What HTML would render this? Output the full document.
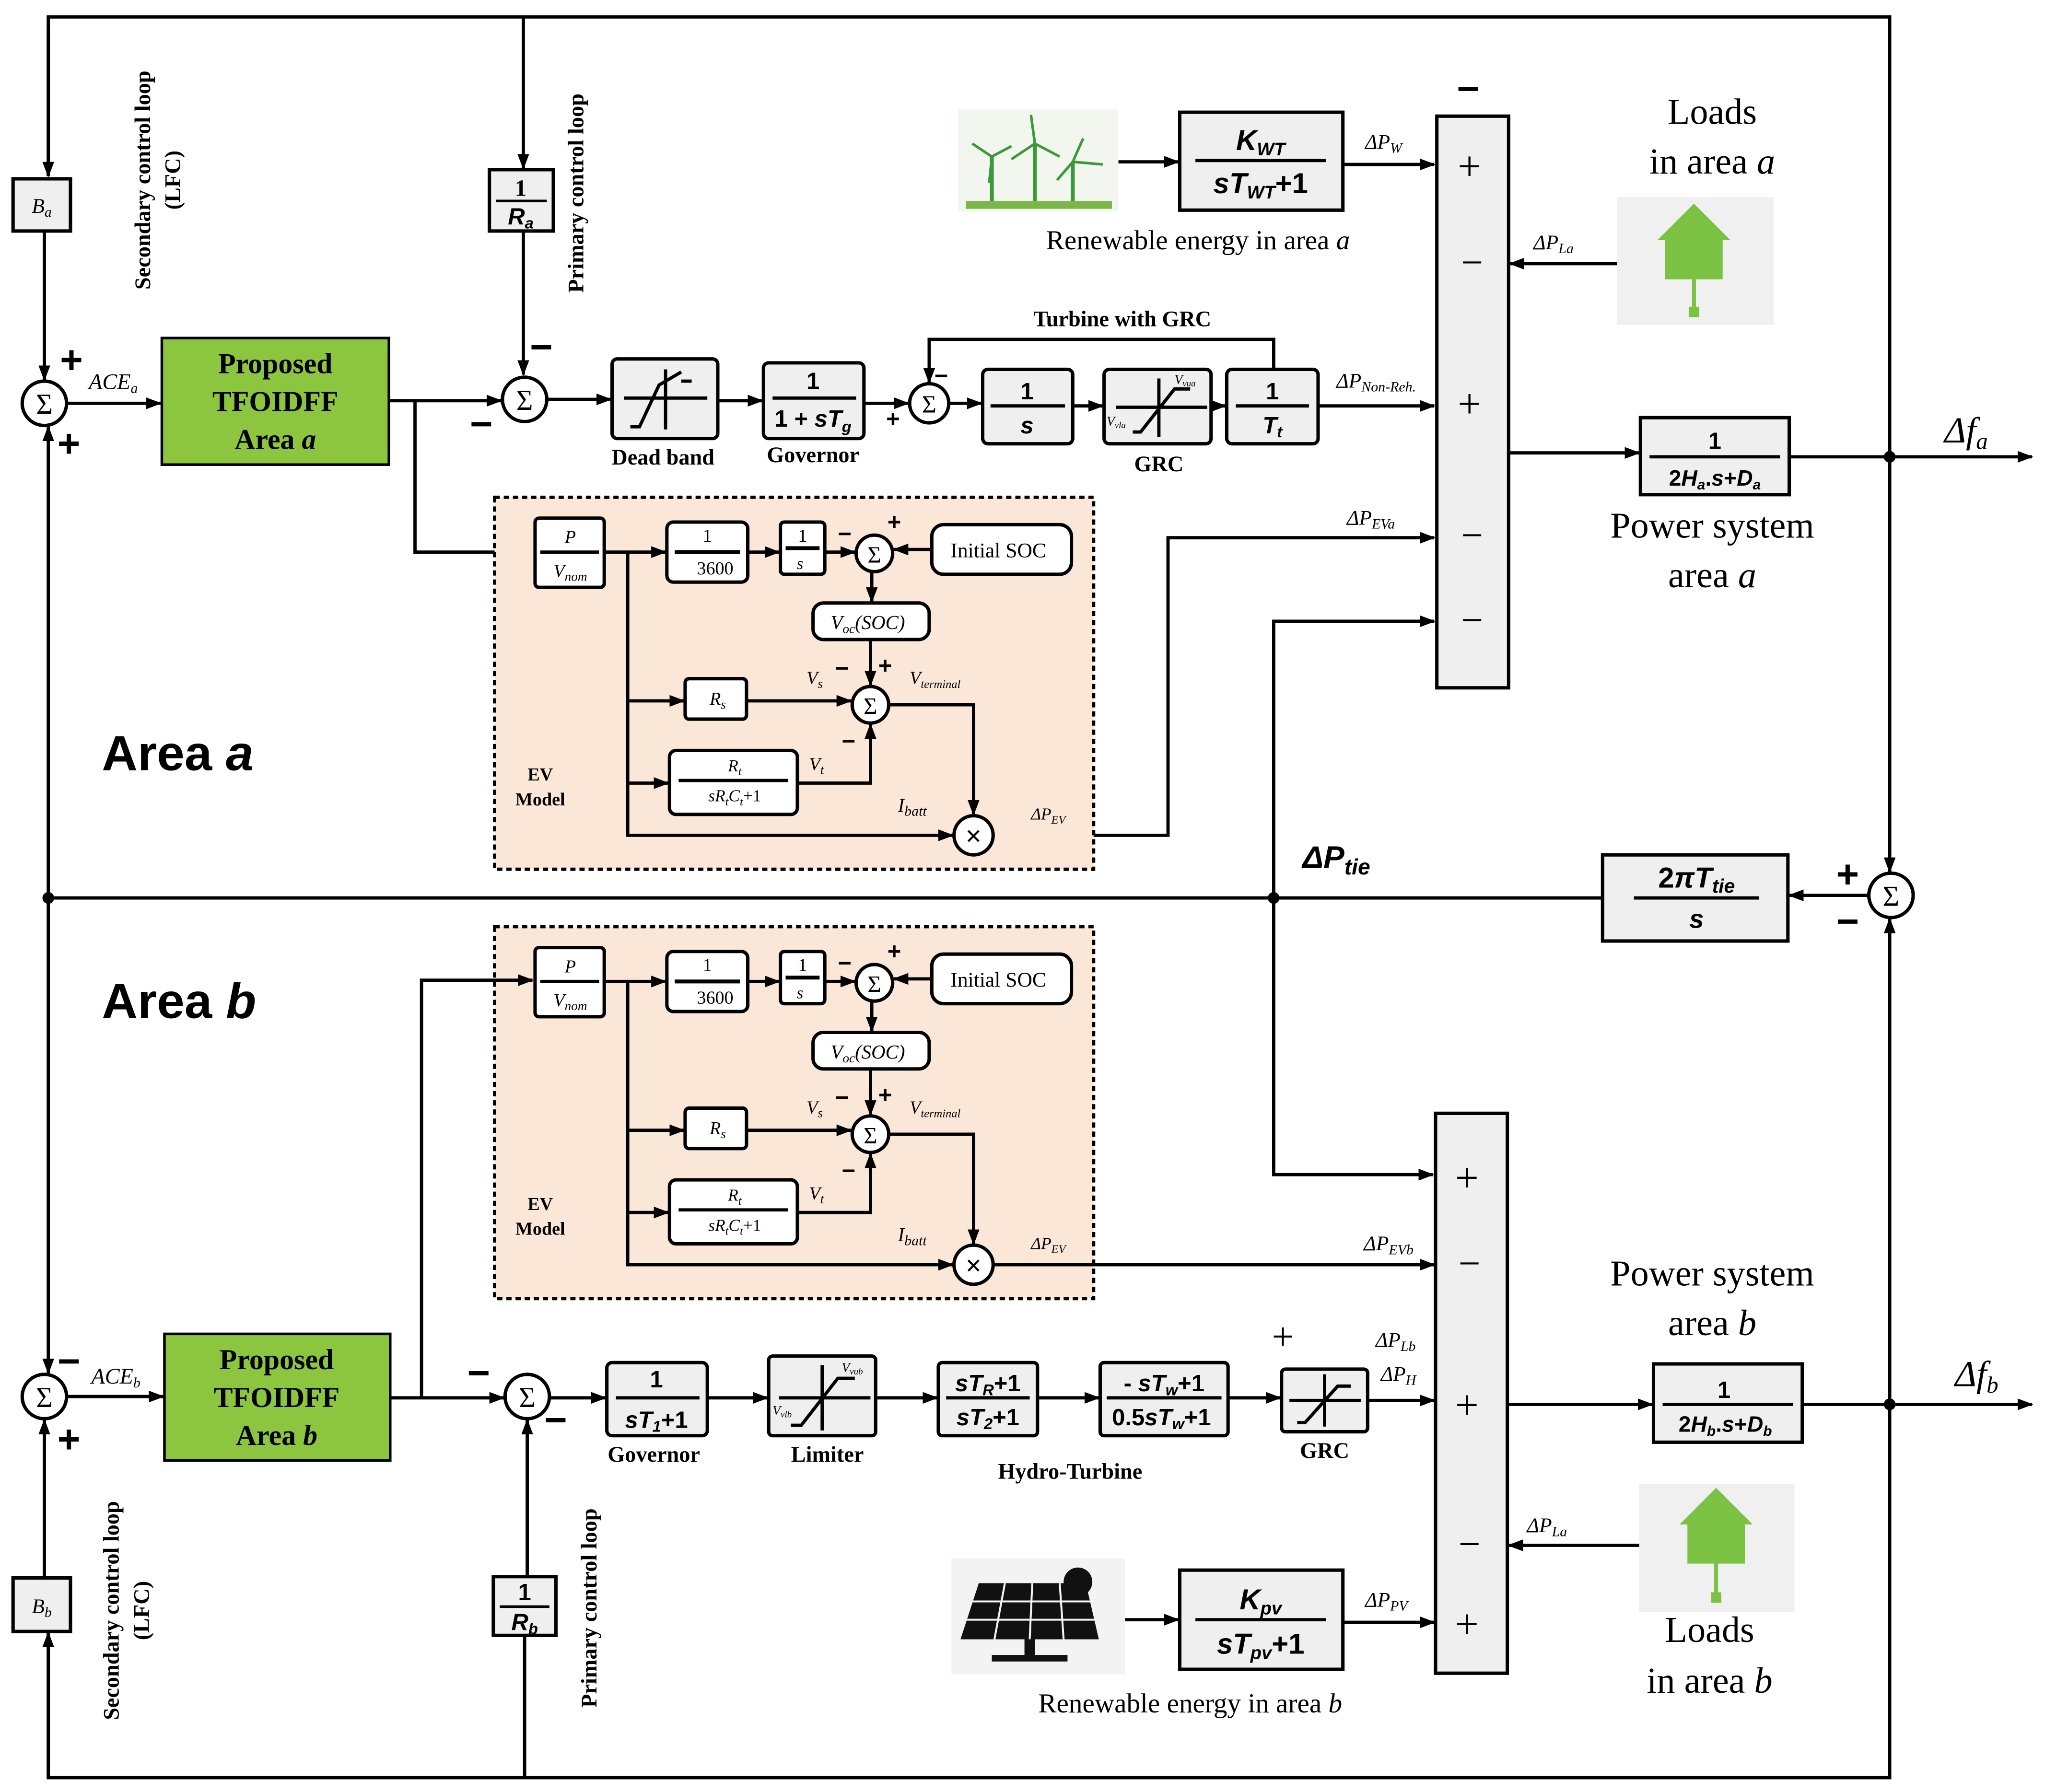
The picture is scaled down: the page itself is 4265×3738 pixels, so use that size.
<!DOCTYPE html>
<html><head><meta charset="utf-8"><style>
html,body{margin:0;padding:0;background:#fff}
svg{display:block}
text{font-family:"Liberation Serif",serif}
.b{fill:#efefef;stroke:#000;stroke-width:2.6}
.w{fill:#fff;stroke:#000;stroke-width:2.6}
.l{stroke:#000;stroke-width:2.5;fill:none}
.s{font-family:"Liberation Sans",sans-serif;font-weight:bold}
.g{font-family:"Liberation Sans",sans-serif;font-weight:bold}
</style></head><body>
<svg width="4265" height="3738" viewBox="0 0 1567 1373" preserveAspectRatio="none" xmlns="http://www.w3.org/2000/svg">
<defs>
<marker id="a" markerWidth="12" markerHeight="9" refX="11" refY="4.5" orient="auto" markerUnits="userSpaceOnUse"><path d="M0,0 L12,4.5 L0,9 z" fill="#000"/></marker>
</defs>
<rect width="1567" height="1373" fill="#fff"/>

<!-- outer loops -->
<path class="l" d="M37,135 V13 H1448 V1362 H37 V1250"/>
<line class="l" x1="37" y1="20" x2="37" y2="135" marker-end="url(#a)"/>
<line class="l" x1="401" y1="13" x2="401" y2="129" marker-end="url(#a)"/>
<line class="l" x1="402" y1="1362" x2="402" y2="1254"/>
<line class="l" x1="37" y1="1362" x2="37" y2="1251" marker-end="url(#a)"/>

<!-- Area a left -->
<rect class="b" x="10" y="137" width="44" height="40"/>
<text x="32" y="163" font-size="16" text-anchor="middle" font-style="italic">B<tspan font-size="11" dy="3">a</tspan></text>
<line class="l" x1="34" y1="177" x2="34" y2="291" marker-end="url(#a)"/>
<circle class="w" cx="34" cy="309" r="17"/><text x="34" y="317" font-size="22" text-anchor="middle">Σ</text>
<text x="46" y="286" font-size="30" class="g">+</text><text x="44" y="350" font-size="30" class="g">+</text>
<line class="l" x1="37" y1="688" x2="37" y2="327" marker-end="url(#a)"/>
<line class="l" x1="51" y1="309" x2="123" y2="309" marker-end="url(#a)"/>
<text x="68" y="298" font-size="17" font-style="italic">ACE<tspan font-size="11" dy="3">a</tspan></text>
<rect x="124" y="259" width="174" height="97" fill="#8cc63f" stroke="#000" stroke-width="2"/>
<text x="211" y="286" font-size="22" font-weight="bold" text-anchor="middle">Proposed</text>
<text x="211" y="315" font-size="22" font-weight="bold" text-anchor="middle">TFOIDFF</text>
<text x="211" y="344" font-size="22" font-weight="bold" text-anchor="middle">Area <tspan font-style="italic">a</tspan></text>
<text transform="translate(115,138) rotate(-90)" font-size="17" font-weight="bold" text-anchor="middle">Secondary control loop</text>
<text transform="translate(138,138) rotate(-90)" font-size="17" font-weight="bold" text-anchor="middle">(LFC)</text>
<text transform="translate(447,148) rotate(-90)" font-size="17" font-weight="bold" text-anchor="middle">Primary control loop</text>

<rect class="b" x="375" y="130" width="49" height="47"/>
<text x="399" y="150" font-size="18" font-weight="bold" text-anchor="middle">1</text>
<line x1="380" y1="154" x2="419" y2="154" stroke="#000" stroke-width="2"/>
<text x="399" y="172" font-size="18" font-weight="bold" font-style="italic" text-anchor="middle" class="s">R<tspan font-size="12" dy="3">a</tspan></text>
<line class="l" x1="401" y1="177" x2="401" y2="287" marker-end="url(#a)"/>
<text x="406" y="276" font-size="30" class="g">−</text><text x="360" y="335" font-size="30" class="g">−</text>
<line class="l" x1="298" y1="307" x2="384" y2="307" marker-end="url(#a)"/>
<circle class="w" cx="402" cy="306" r="17"/><text x="402" y="314" font-size="22" text-anchor="middle">Σ</text>
<path class="l" d="M318,307 V423 H408" marker-end="url(#a)"/>

<!-- governor chain a -->
<line class="l" x1="419" y1="306" x2="468" y2="306" marker-end="url(#a)"/>
<rect class="b" x="469" y="275" width="81" height="61" rx="4"/>
<path class="l" d="M478,305 H542 M510,283 V329 M483,327 H490 L505,295 L522,285 M522,292 H530" />
<text x="508" y="356" font-size="17" font-weight="bold" text-anchor="middle">Dead band</text>
<line class="l" x1="550" y1="307" x2="584" y2="307" marker-end="url(#a)"/>
<rect class="b" x="585" y="278" width="77" height="58" rx="4"/>
<text x="623" y="298" font-size="18" class="s" text-anchor="middle">1</text>
<line x1="592" y1="305" x2="656" y2="305" stroke="#000" stroke-width="2.5"/>
<text x="623" y="327" font-size="18" class="s" text-anchor="middle">1 + <tspan font-style="italic">sT</tspan><tspan font-size="12" dy="4" font-style="italic">g</tspan></text>
<text x="623" y="354" font-size="17" font-weight="bold" text-anchor="middle">Governor</text>
<line class="l" x1="662" y1="309" x2="696" y2="309" marker-end="url(#a)"/>
<text x="679" y="327" font-size="18" class="g">+</text>
<circle class="w" cx="712" cy="309" r="15"/><text x="712" y="316" font-size="19" text-anchor="middle">Σ</text>
<path class="l" d="M976,283 V260 H712 V293" marker-end="url(#a)"/>
<text x="716" y="294" font-size="18" class="g">−</text>
<line class="l" x1="727" y1="309" x2="752" y2="309" marker-end="url(#a)"/>
<rect class="b" x="753" y="283" width="69" height="57" rx="4"/>
<text x="787" y="306" font-size="18" class="s" text-anchor="middle">1</text>
<line x1="759" y1="311" x2="816" y2="311" stroke="#000" stroke-width="2.5"/>
<text x="787" y="332" font-size="18" class="s" text-anchor="middle" font-style="italic">s</text>
<line class="l" x1="822" y1="311" x2="845" y2="311" marker-end="url(#a)"/>
<rect class="b" x="846" y="283" width="82" height="57" rx="4"/>
<path class="l" d="M855,312 H925 M888,290 V335 M868,331 H874 L900,298 H912"/>
<text x="900" y="294" font-size="10" font-style="italic">V<tspan font-size="7" dy="2">vua</tspan></text>
<text x="848" y="326" font-size="10" font-style="italic">V<tspan font-size="7" dy="2">vla</tspan></text>
<text x="888" y="361" font-size="17" font-weight="bold" text-anchor="middle">GRC</text>
<line class="l" x1="928" y1="311" x2="939" y2="311" marker-end="url(#a)"/>
<rect class="b" x="940" y="283" width="70" height="57" rx="4"/>
<text x="975" y="306" font-size="18" class="s" text-anchor="middle">1</text>
<line x1="947" y1="311" x2="1003" y2="311" stroke="#000" stroke-width="2.5"/>
<text x="975" y="332" font-size="18" class="s" text-anchor="middle" font-style="italic">T<tspan font-size="12" dy="3">t</tspan></text>
<text x="860" y="250" font-size="17" font-weight="bold" text-anchor="middle">Turbine with GRC</text>
<line class="l" x1="1010" y1="311" x2="1099" y2="311" marker-end="url(#a)"/>
<text x="1024" y="297" font-size="16" font-style="italic">ΔP<tspan font-size="11" dy="3">Non-Reh.</tspan></text>

<!-- big summer a -->
<rect class="b" x="1101" y="89" width="55" height="438"/>
<text x="1125" y="78" font-size="30" class="g" text-anchor="middle">−</text>
<text x="1126" y="138" font-size="32" text-anchor="middle">+</text>
<text x="1128" y="211" font-size="30" text-anchor="middle">−</text>
<text x="1126" y="320" font-size="32" text-anchor="middle">+</text>
<text x="1128" y="420" font-size="30" text-anchor="middle">−</text>
<text x="1128" y="485" font-size="30" text-anchor="middle">−</text>

<!-- wind -->
<rect x="734" y="84" width="123" height="78" fill="#f3f6ee"/>
<g stroke="#3a9a3a" stroke-width="3" fill="none">
<line x1="760" y1="158" x2="760" y2="120"/><line x1="793" y1="158" x2="793" y2="110"/><line x1="822" y1="158" x2="822" y2="124"/>
<path d="M760,120 L745,110 M760,120 L775,112 M760,120 L758,140" stroke-width="2"/>
<path d="M793,110 L790,88 M793,110 L812,120 M793,110 L775,122" stroke-width="2"/>
<path d="M822,124 L830,106 M822,124 L845,126 M822,124 L810,138" stroke-width="2"/>
</g>
<rect x="740" y="154" width="112" height="6" fill="#7ab648"/>
<line class="l" x1="857" y1="124" x2="903" y2="124" marker-end="url(#a)"/>
<rect class="b" x="904" y="86" width="125" height="75"/>
<text x="966" y="115" font-size="22" class="s" text-anchor="middle" font-style="italic">K<tspan font-size="14" dy="4">WT</tspan></text>
<line x1="916" y1="123" x2="1016" y2="123" stroke="#000" stroke-width="2.5"/>
<text x="966" y="148" font-size="22" class="s" text-anchor="middle"><tspan font-style="italic">sT</tspan><tspan font-size="14" dy="4" font-style="italic">WT</tspan><tspan dy="-4">+1</tspan></text>
<text x="918" y="191" font-size="21" text-anchor="middle">Renewable energy in area <tspan font-style="italic">a</tspan></text>
<line class="l" x1="1029" y1="126" x2="1099" y2="126" marker-end="url(#a)"/>
<text x="1046" y="114" font-size="16" font-style="italic">ΔP<tspan font-size="11" dy="3">W</tspan></text>

<!-- loads a -->
<text x="1312" y="95" font-size="28" text-anchor="middle">Loads</text>
<text x="1312" y="133" font-size="28" text-anchor="middle">in area <tspan font-style="italic">a</tspan></text>
<rect x="1239" y="151" width="120" height="98" fill="#f0f0f0"/>
<path d="M1298,156 L1270,184 H1326 Z" fill="#7cc242"/>
<rect x="1276" y="184" width="44" height="30" fill="#7cc242"/>
<path d="M1298,214 V235" stroke="#7cc242" stroke-width="3"/>
<rect x="1294" y="235" width="8" height="8" fill="#7cc242"/>
<line class="l" x1="1239" y1="202" x2="1157" y2="202" marker-end="url(#a)"/>
<text x="1175" y="191" font-size="16" font-style="italic">ΔP<tspan font-size="11" dy="3">La</tspan></text>

<!-- output a -->
<line class="l" x1="1156" y1="347" x2="1256" y2="347" marker-end="url(#a)"/>
<rect class="b" x="1257" y="320" width="114" height="59"/>
<text x="1314" y="344" font-size="18" class="s" text-anchor="middle">1</text>
<line x1="1264" y1="350" x2="1364" y2="350" stroke="#000" stroke-width="2.5"/>
<text x="1314" y="372" font-size="17" class="s" text-anchor="middle">2<tspan font-style="italic">H</tspan><tspan font-size="11" dy="3" font-style="italic">a</tspan><tspan dy="-3">.</tspan><tspan font-style="italic">s</tspan>+<tspan font-style="italic">D</tspan><tspan font-size="11" dy="3" font-style="italic">a</tspan></text>
<line class="l" x1="1371" y1="350" x2="1557" y2="350" marker-end="url(#a)"/>
<circle cx="1448" cy="350" r="4.5" fill="#000"/>
<text x="1490" y="339" font-size="28" font-style="italic">Δf<tspan font-size="18" dy="5">a</tspan></text>
<text x="1312" y="412" font-size="28" text-anchor="middle">Power system</text>
<text x="1312" y="450" font-size="28" text-anchor="middle">area <tspan font-style="italic">a</tspan></text>

<!-- tie line -->
<line class="l" x1="37" y1="688" x2="1228" y2="688"/>
<circle cx="37" cy="688" r="4.5" fill="#000"/><circle cx="976" cy="688" r="4.5" fill="#000"/>
<path class="l" d="M976,688 V476 H1099" marker-end="url(#a)"/>
<path class="l" d="M976,688 V900 H1098" marker-end="url(#a)"/>
<text x="998" y="665" font-size="24" class="s"><tspan font-style="italic">ΔP</tspan><tspan font-size="17" dy="5" font-style="italic">tie</tspan></text>
<rect class="b" x="1228" y="655" width="142" height="66"/>
<text x="1300" y="680" font-size="22" class="s" text-anchor="middle">2<tspan font-style="italic">πT</tspan><tspan font-size="15" dy="4" font-style="italic">tie</tspan></text>
<line x1="1252" y1="688" x2="1348" y2="688" stroke="#000" stroke-width="2.5"/>
<text x="1300" y="711" font-size="20" class="s" text-anchor="middle" font-style="italic">s</text>
<line class="l" x1="1432" y1="686" x2="1371" y2="686" marker-end="url(#a)"/>
<circle class="w" cx="1449" cy="686" r="17"/><text x="1449" y="694" font-size="22" text-anchor="middle">Σ</text>
<line class="l" x1="1448" y1="350" x2="1448" y2="668" marker-end="url(#a)"/>
<line class="l" x1="1448" y1="1076" x2="1448" y2="704" marker-end="url(#a)"/>
<text x="1407" y="680" font-size="30" class="g">+</text><text x="1407" y="716" font-size="30" class="g">−</text>
<path class="l" d="M761,640 H895 V412 H1099" marker-end="url(#a)"/>
<text x="1032" y="402" font-size="16" font-style="italic">ΔP<tspan font-size="11" dy="3">EVa</tspan></text>

<text x="78" y="590" font-size="38" class="s">Area <tspan font-style="italic">a</tspan></text>
<text x="78" y="780" font-size="38" class="s">Area <tspan font-style="italic">b</tspan></text>

<!-- EV model template -->
<g id="ev">
<rect x="379" y="381" width="459" height="285" fill="#fbe7d8" stroke="#000" stroke-width="2.5" stroke-dasharray="4,3"/>
<rect class="w" x="410" y="397" width="53" height="53" rx="3"/>
<text x="437" y="416" font-size="14" font-style="italic" text-anchor="middle">P</text>
<line x1="414" y1="423" x2="459" y2="423" stroke="#000" stroke-width="2.5"/>
<text x="437" y="442" font-size="14" font-style="italic" text-anchor="middle">V<tspan font-size="10" dy="3">nom</tspan></text>
<line class="l" x1="463" y1="423" x2="510" y2="423" marker-end="url(#a)"/>
<rect class="w" x="511" y="400" width="62" height="46" rx="5"/>
<text x="542" y="415" font-size="14" text-anchor="middle">1</text>
<line x1="517" y1="423" x2="567" y2="423" stroke="#000" stroke-width="3"/>
<text x="548" y="440" font-size="14" text-anchor="middle">3600</text>
<line class="l" x1="573" y1="423" x2="597" y2="423" marker-end="url(#a)"/>
<rect class="w" x="598" y="400" width="34" height="40" rx="3"/>
<text x="615" y="415" font-size="14" text-anchor="middle">1</text>
<line x1="602" y1="420" x2="628" y2="420" stroke="#000" stroke-width="3"/>
<text x="613" y="436" font-size="13" font-style="italic" text-anchor="middle">s</text>
<line class="l" x1="632" y1="423" x2="655" y2="423" marker-end="url(#a)"/>
<circle class="w" cx="670" cy="424" r="14"/><text x="670" y="431" font-size="18" text-anchor="middle">Σ</text>
<text x="642" y="415" font-size="18" class="g">−</text><text x="680" y="406" font-size="18" class="g">+</text>
<rect class="w" x="714" y="402" width="107" height="38" rx="9"/>
<text x="765" y="427" font-size="16" text-anchor="middle">Initial SOC</text>
<line class="l" x1="714" y1="421" x2="685" y2="421" marker-end="url(#a)"/>
<line class="l" x1="668" y1="438" x2="668" y2="461" marker-end="url(#a)"/>
<rect class="w" x="623" y="462" width="89" height="28" rx="8"/>
<text x="665" y="482" font-size="15" font-style="italic" text-anchor="middle">V<tspan font-size="10" dy="3">oc</tspan><tspan dy="-3">(SOC)</tspan></text>
<line class="l" x1="667" y1="490" x2="667" y2="525" marker-end="url(#a)"/>
<text x="673" y="516" font-size="18" class="g">+</text>
<text x="640" y="518" font-size="18" class="g">−</text>
<text x="618" y="524" font-size="14" font-style="italic">V<tspan font-size="10" dy="3">s</tspan></text>
<text x="697" y="524" font-size="14" font-style="italic">V<tspan font-size="9" dy="3">terminal</tspan></text>
<circle class="w" cx="667" cy="540" r="14"/><text x="667" y="547" font-size="18" text-anchor="middle">Σ</text>
<path class="l" d="M481,423 V640 H730" marker-end="url(#a)"/>
<line class="l" x1="481" y1="537" x2="524" y2="537" marker-end="url(#a)"/>
<rect class="w" x="525" y="520" width="47" height="31" rx="3"/>
<text x="550" y="540" font-size="14" font-style="italic" text-anchor="middle">R<tspan font-size="10" dy="3">s</tspan></text>
<line class="l" x1="572" y1="537" x2="652" y2="537" marker-end="url(#a)"/>
<line class="l" x1="481" y1="600" x2="512" y2="600" marker-end="url(#a)"/>
<rect class="w" x="513" y="575" width="98" height="49" rx="5"/>
<text x="563" y="591" font-size="13" font-style="italic" text-anchor="middle">R<tspan font-size="9" dy="3">t</tspan></text>
<line x1="520" y1="598" x2="604" y2="598" stroke="#000" stroke-width="2.5"/>
<text x="563" y="614" font-size="13" font-style="italic" text-anchor="middle">sR<tspan font-size="9" dy="3">t</tspan><tspan dy="-3">C</tspan><tspan font-size="9" dy="3">t</tspan><tspan dy="-3" font-style="normal">+1</tspan></text>
<path class="l" d="M611,600 H667 V555" marker-end="url(#a)"/>
<text x="645" y="574" font-size="18" class="g">−</text>
<text x="620" y="590" font-size="14" font-style="italic">V<tspan font-size="10" dy="3">t</tspan></text>
<path class="l" d="M681,540 H746 V624" marker-end="url(#a)"/>
<circle class="w" cx="746" cy="640" r="15"/><text x="746" y="648" font-size="22" font-weight="bold" text-anchor="middle">×</text>
<text x="688" y="622" font-size="15" font-style="italic">I<tspan font-size="11" dy="3">batt</tspan></text>
<text x="790" y="628" font-size="13" font-style="italic">ΔP<tspan font-size="9" dy="3">EV</tspan></text>
<text x="414" y="598" font-size="14" font-weight="bold" text-anchor="middle">EV</text>
<text x="414" y="617" font-size="14" font-weight="bold" text-anchor="middle">Model</text>
</g>
<use href="#ev" transform="translate(0,329)"/>

<!-- Area b -->
<line class="l" x1="37" y1="688" x2="37" y2="1052" marker-end="url(#a)"/>
<circle class="w" cx="34" cy="1070" r="17"/><text x="34" y="1078" font-size="22" text-anchor="middle">Σ</text>
<text x="44" y="1053" font-size="30" class="g">−</text><text x="44" y="1113" font-size="30" class="g">+</text>
<rect class="b" x="10" y="1209" width="44" height="41"/>
<text x="32" y="1236" font-size="16" text-anchor="middle" font-style="italic">B<tspan font-size="11" dy="3">b</tspan></text>
<line class="l" x1="34" y1="1209" x2="34" y2="1088" marker-end="url(#a)"/>
<line class="l" x1="51" y1="1070" x2="125" y2="1070" marker-end="url(#a)"/>
<text x="70" y="1060" font-size="17" font-style="italic">ACE<tspan font-size="11" dy="3">b</tspan></text>
<rect x="126" y="1022" width="173" height="97" fill="#8cc63f" stroke="#000" stroke-width="2"/>
<text x="212" y="1049" font-size="22" font-weight="bold" text-anchor="middle">Proposed</text>
<text x="212" y="1078" font-size="22" font-weight="bold" text-anchor="middle">TFOIDFF</text>
<text x="212" y="1107" font-size="22" font-weight="bold" text-anchor="middle">Area <tspan font-style="italic">b</tspan></text>
<text transform="translate(91,1234) rotate(-90)" font-size="17" font-weight="bold" text-anchor="middle">Secondary control loop</text>
<text transform="translate(114,1234) rotate(-90)" font-size="17" font-weight="bold" text-anchor="middle">(LFC)</text>
<text transform="translate(457,1232) rotate(-90)" font-size="17" font-weight="bold" text-anchor="middle">Primary control loop</text>
<line class="l" x1="299" y1="1071" x2="386" y2="1071" marker-end="url(#a)"/>
<path class="l" d="M323,1071 V751 H408" marker-end="url(#a)"/>
<circle class="w" cx="404" cy="1070" r="17"/><text x="404" y="1078" font-size="22" text-anchor="middle">Σ</text>
<text x="358" y="1062" font-size="30" class="g">−</text><text x="417" y="1098" font-size="30" class="g">−</text>
<rect class="b" x="378" y="1208" width="48" height="45"/>
<text x="402" y="1226" font-size="18" class="s" text-anchor="middle">1</text>
<line x1="383" y1="1231" x2="421" y2="1231" stroke="#000" stroke-width="2"/>
<text x="402" y="1249" font-size="18" class="s" font-style="italic" text-anchor="middle">R<tspan font-size="12" dy="3">b</tspan></text>
<line class="l" x1="404" y1="1208" x2="404" y2="1088" marker-end="url(#a)"/>

<line class="l" x1="421" y1="1071" x2="464" y2="1071" marker-end="url(#a)"/>
<rect class="b" x="465" y="1044" width="77" height="56" rx="4"/>
<text x="503" y="1063" font-size="18" class="s" text-anchor="middle">1</text>
<line x1="472" y1="1071" x2="536" y2="1071" stroke="#000" stroke-width="2.5"/>
<text x="503" y="1094" font-size="18" class="s" text-anchor="middle"><tspan font-style="italic">sT</tspan><tspan font-size="12" dy="3" font-style="italic">1</tspan><tspan dy="-3">+1</tspan></text>
<text x="501" y="1120" font-size="17" font-weight="bold" text-anchor="middle">Governor</text>
<line class="l" x1="542" y1="1071" x2="588" y2="1071" marker-end="url(#a)"/>
<rect class="b" x="589" y="1039" width="82" height="61" rx="3" stroke-width="3.5"/>
<path class="l" d="M597,1071 H667 M630,1046 V1096 M606,1092 H614 L642,1056 H655"/>
<text x="645" y="1051" font-size="10" font-style="italic">V<tspan font-size="7" dy="2">vub</tspan></text>
<text x="592" y="1084" font-size="10" font-style="italic">V<tspan font-size="7" dy="2">vlb</tspan></text>
<text x="634" y="1120" font-size="17" font-weight="bold" text-anchor="middle">Limiter</text>
<line class="l" x1="671" y1="1071" x2="718" y2="1071" marker-end="url(#a)"/>
<rect class="b" x="719" y="1044" width="76" height="56" rx="3"/>
<text x="757" y="1066" font-size="18" class="s" text-anchor="middle"><tspan font-style="italic">sT</tspan><tspan font-size="12" dy="3" font-style="italic">R</tspan><tspan dy="-3">+1</tspan></text>
<line x1="725" y1="1071" x2="789" y2="1071" stroke="#000" stroke-width="2.5"/>
<text x="757" y="1092" font-size="18" class="s" text-anchor="middle"><tspan font-style="italic">sT</tspan><tspan font-size="12" dy="3" font-style="italic">2</tspan><tspan dy="-3">+1</tspan></text>
<line class="l" x1="795" y1="1071" x2="842" y2="1071" marker-end="url(#a)"/>
<rect class="b" x="843" y="1044" width="98" height="56" rx="3"/>
<text x="892" y="1066" font-size="18" class="s" text-anchor="middle">- <tspan font-style="italic">sT</tspan><tspan font-size="12" dy="3" font-style="italic">w</tspan><tspan dy="-3">+1</tspan></text>
<line x1="848" y1="1071" x2="936" y2="1071" stroke="#000" stroke-width="2.5"/>
<text x="890" y="1092" font-size="18" class="s" text-anchor="middle">0.5<tspan font-style="italic">sT</tspan><tspan font-size="12" dy="3" font-style="italic">w</tspan><tspan dy="-3">+1</tspan></text>
<text x="820" y="1133" font-size="17" font-weight="bold" text-anchor="middle">Hydro-Turbine</text>
<line class="l" x1="941" y1="1071" x2="981" y2="1071" marker-end="url(#a)"/>
<rect class="b" x="982" y="1049" width="66" height="48" rx="3"/>
<path class="l" d="M988,1073 H1043 M1015,1053 V1093 M994,1090 H1000 L1025,1062 H1035"/>
<text x="1015" y="1117" font-size="17" font-weight="bold" text-anchor="middle">GRC</text>
<text x="983" y="1034" font-size="30" text-anchor="middle">+</text>
<line class="l" x1="1048" y1="1073" x2="1099" y2="1073" marker-end="url(#a)"/>
<text x="1054" y="1032" font-size="16" font-style="italic">ΔP<tspan font-size="11" dy="3">Lb</tspan></text>
<text x="1058" y="1058" font-size="16" font-style="italic">ΔP<tspan font-size="11" dy="3">H</tspan></text>

<line class="l" x1="761" y1="969" x2="1099" y2="969" marker-end="url(#a)"/>
<text x="1045" y="958" font-size="16" font-style="italic">ΔP<tspan font-size="11" dy="3">EVb</tspan></text>

<rect class="b" x="1100" y="853" width="55" height="429"/>
<text x="1124" y="913" font-size="32" text-anchor="middle">+</text>
<text x="1126" y="978" font-size="30" text-anchor="middle">−</text>
<text x="1124" y="1087" font-size="32" text-anchor="middle">+</text>
<text x="1126" y="1193" font-size="30" text-anchor="middle">−</text>
<text x="1124" y="1255" font-size="32" text-anchor="middle">+</text>

<line class="l" x1="1155" y1="1076" x2="1266" y2="1076" marker-end="url(#a)"/>
<rect class="b" x="1267" y="1045" width="114" height="60"/>
<text x="1321" y="1071" font-size="18" class="s" text-anchor="middle">1</text>
<line x1="1274" y1="1076" x2="1374" y2="1076" stroke="#000" stroke-width="2.5"/>
<text x="1322" y="1097" font-size="17" class="s" text-anchor="middle">2<tspan font-style="italic">H</tspan><tspan font-size="11" dy="3" font-style="italic">b</tspan><tspan dy="-3">.</tspan><tspan font-style="italic">s</tspan>+<tspan font-style="italic">D</tspan><tspan font-size="11" dy="3" font-style="italic">b</tspan></text>
<line class="l" x1="1381" y1="1076" x2="1557" y2="1076" marker-end="url(#a)"/>
<circle cx="1448" cy="1076" r="4.5" fill="#000"/>
<text x="1498" y="1062" font-size="28" font-style="italic">Δf<tspan font-size="18" dy="5">b</tspan></text>
<text x="1312" y="985" font-size="28" text-anchor="middle">Power system</text>
<text x="1312" y="1023" font-size="28" text-anchor="middle">area <tspan font-style="italic">b</tspan></text>

<!-- loads b -->
<rect x="1256" y="1137" width="119" height="98" fill="#f0f0f0"/>
<path d="M1315,1140 L1287,1168 H1343 Z" fill="#7cc242"/>
<rect x="1293" y="1168" width="44" height="30" fill="#7cc242"/>
<path d="M1315,1198 V1220" stroke="#7cc242" stroke-width="3"/>
<rect x="1311" y="1220" width="8" height="8" fill="#7cc242"/>
<text x="1310" y="1258" font-size="28" text-anchor="middle">Loads</text>
<text x="1310" y="1297" font-size="28" text-anchor="middle">in area <tspan font-style="italic">b</tspan></text>
<line class="l" x1="1256" y1="1184" x2="1156" y2="1184" marker-end="url(#a)"/>
<text x="1170" y="1174" font-size="16" font-style="italic">ΔP<tspan font-size="11" dy="3">La</tspan></text>

<!-- PV -->
<rect x="729" y="1194" width="133" height="89" fill="#f3f3f3"/>
<path d="M750,1213 H832 L842,1256 H736 Z" fill="#111"/>
<g stroke="#f3f3f3" stroke-width="1.5"><line x1="744" y1="1227" x2="836" y2="1227"/><line x1="740" y1="1241" x2="839" y2="1241"/>
<line x1="770" y1="1213" x2="762" y2="1256"/><line x1="791" y1="1213" x2="789" y2="1256"/><line x1="812" y1="1213" x2="815" y2="1256"/></g>
<rect x="785" y="1256" width="8" height="12" fill="#111"/><rect x="760" y="1268" width="58" height="5" fill="#111"/>
<circle cx="826" cy="1212" r="11" fill="#111"/>
<line class="l" x1="862" y1="1241" x2="903" y2="1241" marker-end="url(#a)"/>
<rect class="b" x="904" y="1203" width="125" height="76"/>
<text x="966" y="1233" font-size="22" class="s" text-anchor="middle" font-style="italic">K<tspan font-size="14" dy="4">pv</tspan></text>
<line x1="916" y1="1241" x2="1016" y2="1241" stroke="#000" stroke-width="2.5"/>
<text x="966" y="1267" font-size="22" class="s" text-anchor="middle"><tspan font-style="italic">sT</tspan><tspan font-size="14" dy="4" font-style="italic">pv</tspan><tspan dy="-4">+1</tspan></text>
<text x="912" y="1312" font-size="21" text-anchor="middle">Renewable energy in area <tspan font-style="italic">b</tspan></text>
<line class="l" x1="1029" y1="1243" x2="1099" y2="1243" marker-end="url(#a)"/>
<text x="1046" y="1231" font-size="16" font-style="italic">ΔP<tspan font-size="11" dy="3">PV</tspan></text>
</svg>
</body></html>
